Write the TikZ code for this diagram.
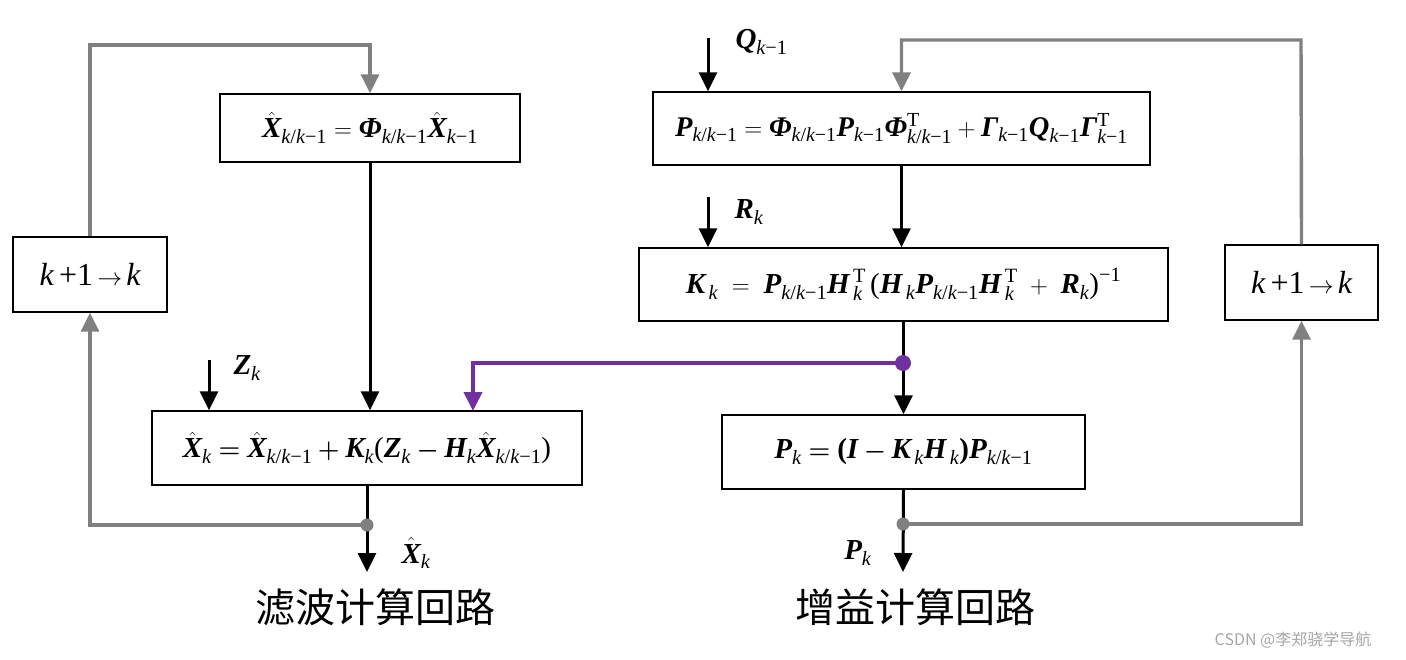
\documentclass[tikz,border=0pt]{standalone}
\usepackage{fontspec}
\setmainfont{Liberation Serif}
\newfontfamily\cjk{Noto Sans CJK SC}
\usepackage{amsmath}
\usetikzlibrary{arrows.meta,calc}
\newcommand{\bv}[1]{\text{\bfseries\itshape #1}}
\newcommand{\kk}{\text{\itshape k}}
\newcommand{\km}{\text{\itshape k}\text{−1}}
\newcommand{\kkm}{\text{\itshape k}\text{/}\text{\itshape k}\text{−1}}
\newcommand{\tp}{\text{T}}
\definecolor{loopgray}{RGB}{128,128,128}
\definecolor{tappurple}{RGB}{112,48,160}
\tikzset{
  eqbox/.style={draw, line width=1.4pt, inner sep=0pt, font=\fontsize{29}{34}\selectfont},
  flow/.style={line width=3pt, -{Triangle[length=19pt,width=18pt]}},
  back/.style={flow, loopgray, line width=3.4pt},
  tap/.style={flow, tappurple, line width=3.8pt},
  lbl/.style={font=\fontsize{29}{34}\selectfont},
  looptitle/.style={font=\cjk\fontsize{40}{44}\selectfont}
}
\begin{document}
\begin{tikzpicture}[x=1pt,y=-1pt]
    \useasboundingbox (0,0) rectangle (1406,659);
    \node[eqbox, minimum width=300pt, minimum height=68pt] (xpred) at (370,128)
      {$\hat{\bv{X}}_{\kkm}=\bv{Φ}_{\kkm}\hat{\bv{X}}_{\km}$};
    \node[eqbox, minimum width=497pt, minimum height=73pt, font=\fontsize{28.5}{33}\selectfont] (ppred) at (901.5,128.5)
      {$\bv{P}_{\kkm}=\bv{Φ}_{\kkm}\bv{P}_{\km}\bv{Φ}^{\tp}_{\kkm}+\bv{Γ}_{\km}\bv{Q}_{\km}\bv{Γ}^{\tp}_{\km}$};
    \node[eqbox, minimum width=529pt, minimum height=73pt] (gain) at (903.5,284.5)
      {$\bv{K}_{\,\kk}\;=\;\bv{P}_{\kkm}\bv{H}^{\,\tp}_{\,\kk}\,\text{(}\bv{H}_{\,\kk}\bv{P}_{\kkm}\bv{H}^{\,\tp}_{\,\kk}\;+\;\bv{R}_{\kk}\text{)}^{\text{−1}}$};
    \node[eqbox, minimum width=430pt, minimum height=74pt] (xupd) at (367,448)
      {$\hat{\bv{X}}_{\kk}\boldsymbol{=}\hat{\bv{X}}_{\kkm}\boldsymbol{+}\bv{K}_{\kk}\text{(}\bv{Z}_{\kk}\boldsymbol{-}\bv{H}_{\kk}\hat{\bv{X}}_{\kkm}\text{)}$};
    \node[eqbox, minimum width=363pt, minimum height=74pt] (pupd) at (903.5,452)
      {$\bv{P}_{\kk}\boldsymbol{=}\text{\bfseries(}\bv{I}\boldsymbol{-}\bv{K}_{\,\kk}\bv{H}_{\,\kk}\text{\bfseries)}\bv{P}_{\kkm}$};
    \node[eqbox, minimum width=154pt, minimum height=75pt, font=\fontsize{32}{36}\selectfont] (stepl) at (90,274.5) {\itshape k\upshape\,+1$\,\rightarrow\,$\itshape k};
    \node[eqbox, minimum width=153pt, minimum height=75pt, font=\fontsize{32}{36}\selectfont] (stepr) at (1301.5,282.5) {\itshape k\upshape\,+1$\,\rightarrow\,$\itshape k};
    \coordinate (zin) at (209,360);
    \coordinate (qin) at (708,38);
    \coordinate (rin) at (708,197);
    \coordinate (xout) at (367,572);
    \coordinate (pout) at (903,572);
    \coordinate (xdot) at (367,525);
    \coordinate (pdot) at (903,524);
    \coordinate (kdot) at (903,363);
    \draw[back] (stepl.north) -- (90,45) -| (xpred.north);
    \draw[flow] (xpred.south) -- (xpred.south |- xupd.north);
    \draw[flow] (zin) -- (zin |- xupd.north);
    \node[lbl, anchor=west] (zlbl) at (230,368) {$\bv{Z}_{\kk}$};
    \draw[flow] (xupd.south) -- (xout);
    \draw[back] (xdot) -| (stepl.south);
    \fill[loopgray] (xdot) circle (6.5pt);
    \node[lbl, anchor=west] (xlbl) at (398,553) {$\hat{\bv{X}}_{\kk}$};
    \draw[flow] (qin) -- (qin |- ppred.north);
    \node[lbl, anchor=west] (qlbl) at (732,42) {$\bv{Q}_{\km}$};
    \draw[back] (stepr.north) -- (1301,40) -| (ppred.north);
    \draw[flow] (ppred.south) -- (ppred.south |- gain.north);
    \draw[flow] (rin) -- (rin |- gain.north);
    \node[lbl, anchor=west] (rlbl) at (731,212) {$\bv{R}_{\kk}$};
    \draw[flow] (gain.south) -- (gain.south |- pupd.north);
    \draw[tap] (kdot) -| (473,411);
    \fill[tappurple] (kdot) circle (8pt);
    \draw[flow] (pupd.south) -- (pout);
    \draw[back] (pdot) -| (stepr.south);
    \fill[loopgray] (pdot) circle (6.5pt);
    \node[lbl, anchor=east] (plbl) at (875,553) {$\bv{P}_{\kk}$};
    \node[looptitle] (capl) at (375,607) {滤波计算回路};
    \node[looptitle] (capr) at (915,607) {增益计算回路};
    \node[font=\cjk\fontsize{16}{18}\selectfont, text=gray!70] (mark) at (1293,640) {CSDN @李郑骁学导航};
\end{tikzpicture}
\end{document}
